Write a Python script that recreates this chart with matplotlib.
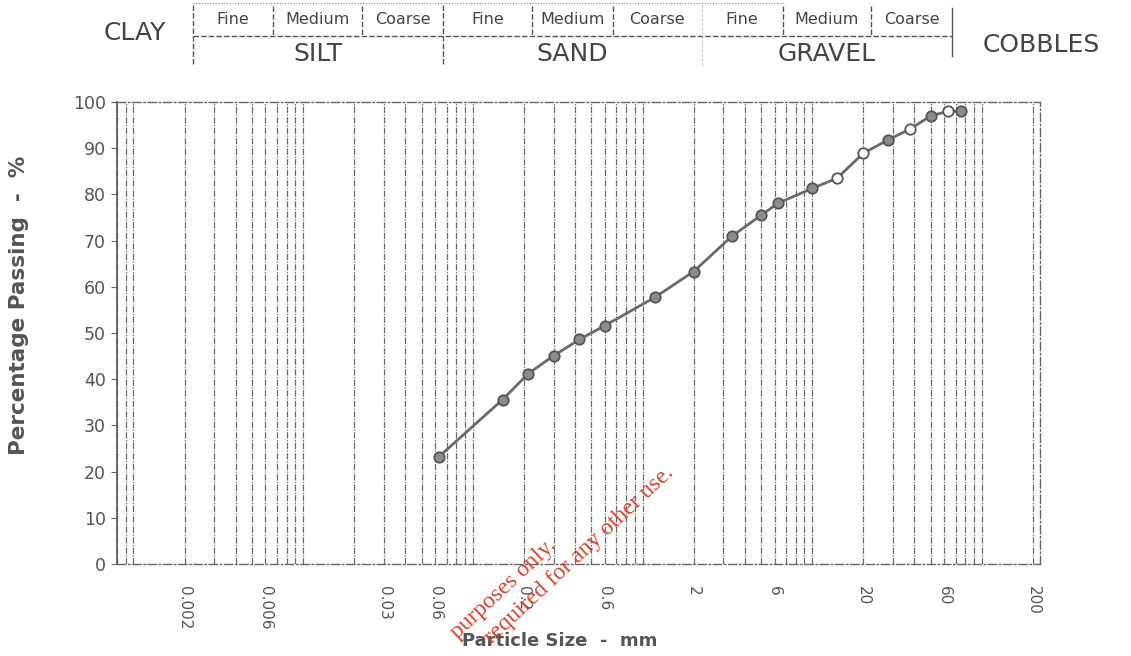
import numpy as np
import matplotlib
matplotlib.use("Agg")
import matplotlib.pyplot as plt
from matplotlib import transforms
from matplotlib.ticker import FixedLocator, LogLocator, NullFormatter, FixedFormatter

# ---- data ----
sieve_sizes_mm = [0.063, 0.15, 0.212, 0.3, 0.425, 0.6, 1.18, 2.0, 3.35, 5.0, 6.3,
                  10.0, 14.0, 20.0, 28.0, 37.5, 50.0, 63.0, 75.0]
percent_passing = [23.2, 35.6, 41.2, 45.1, 48.6, 51.6, 57.7, 63.3, 70.9, 75.5, 78.1,
                   81.3, 83.5, 88.9, 91.8, 94.1, 97.0, 98.0, 98.0]
hollow_point = [False, False, False, False, False, False, False, False, False, False, False,
                False, True, True, False, True, False, True, False]

x_tick_values = [0.002, 0.006, 0.03, 0.06, 0.2, 0.6, 2, 6, 20, 60, 200]
x_tick_labels = ["0.002", "0.006", "0.03", "0.06", "0.2", "0.6", "2", "6", "20", "60", "200"]
y_ticks = list(range(0, 101, 10))

# soil classification boundaries (mm)
main_classes = ["SILT", "SAND", "GRAVEL"]
main_bounds = [(0.002, 0.06), (0.06, 2.0), (2.0, 60.0)]
sub_classes = ["Fine", "Medium", "Coarse"]
sub_bounds = [0.002, 0.006, 0.02, 0.06, 0.2, 0.6, 2.0, 6.0, 20.0, 60.0]

# ---- figure ----
W, H, DPI = 1131, 656, 100
fig = plt.figure(figsize=(W / DPI, H / DPI), dpi=DPI)
ax = fig.add_axes([117 / W, 1 - 564 / H, (1040 - 117) / W, (564 - 102) / H])

ax.set_xscale("log")
ax.set_xlim(0.0008, 220)
ax.set_ylim(0, 100)

txt_col = "#555555"

# gridlines (log major + minor)
ax.xaxis.set_minor_locator(LogLocator(base=10, subs=np.arange(1, 10), numticks=60))
ax.xaxis.set_minor_formatter(NullFormatter())
ax.xaxis.set_major_locator(FixedLocator(x_tick_values))
ax.xaxis.set_major_formatter(FixedFormatter(x_tick_labels))
ax.grid(True, which="both", axis="x", color="#6a6a6a", linewidth=0.9,
        linestyle=(0, (5, 1.2, 1, 1.2)))
ax.grid(False, axis="y")
ax.tick_params(axis="x", which="minor", length=0)
ax.tick_params(axis="x", which="major", length=0, pad=16, labelsize=11,
               labelcolor=txt_col, labelrotation=-90)
for lab in ax.get_xticklabels():
    lab.set_va("top")

ax.set_yticks(y_ticks)
ax.tick_params(axis="y", length=4, color="#666666", labelsize=12.5,
               labelcolor=txt_col, pad=4)

for side in ["top", "bottom", "right"]:
    ax.spines[side].set_color("#666666")
    ax.spines[side].set_linewidth(1.0)
    ax.spines[side].set_linestyle((0, (6, 2, 1, 2)))
ax.spines["left"].set_color("#555555")
ax.spines["left"].set_linewidth(1.2)

# grading curve
ax.plot(sieve_sizes_mm, percent_passing, color="#6a6a6a", linewidth=2.0, zorder=3)
for xs, ys, hol in zip(sieve_sizes_mm, percent_passing, hollow_point):
    ax.plot([xs], [ys], marker="o", markersize=7.5,
            markerfacecolor="white" if hol else "#8c8c8c",
            markeredgecolor="#555555", markeredgewidth=1.3, zorder=4, linestyle="none")

# axis labels
fig.text(560 / W, 1 - 641 / H, "Particle Size  -  mm", ha="center", va="center",
         fontsize=13, fontweight="bold", color=txt_col)
fig.text(19 / W, 1 - 305 / H, "Percentage Passing  -  %", ha="center", va="center",
         rotation=90, fontsize=15.5, fontweight="bold", color=txt_col)

# ---- classification header ----
hdr = transforms.blended_transform_factory(ax.transData, fig.transFigure) + \
    transforms.ScaledTranslation(8 / DPI, 0, fig.dpi_scale_trans)

def fy(px):
    return 1 - px / H

line_kw = dict(color="#555555", linewidth=1.0, linestyle=(0, (4, 1.5)), transform=hdr,
               clip_on=False)
# top dotted line
fig.add_artist(plt.Line2D([sub_bounds[0], 6.0], [fy(3), fy(3)], color="#888888",
                          linewidth=0.8, linestyle=(0, (1, 1.5)), transform=hdr))
# separator between sub- and main classes
fig.add_artist(plt.Line2D([sub_bounds[0], sub_bounds[-1]], [fy(36), fy(36)], **line_kw))
# dividers
for b in sub_bounds:
    if b in (0.002, 0.06):
        fig.add_artist(plt.Line2D([b, b], [fy(5), fy(66)], **line_kw))
    elif b == 60.0:
        fig.add_artist(plt.Line2D([b, b], [fy(8), fy(56)], color="#555555", linewidth=1.0,
                                  transform=hdr))
    elif b == 2.0:
        fig.add_artist(plt.Line2D([b, b], [fy(5), fy(66)], color="#bbbbbb", linewidth=0.8,
                                  linestyle=(0, (2, 2)), transform=hdr))
    else:
        fig.add_artist(plt.Line2D([b, b], [fy(6), fy(35)], **line_kw))

for i in range(len(sub_bounds) - 1):
    lo, hi = sub_bounds[i], sub_bounds[i + 1]
    fig.text(np.sqrt(lo * hi), fy(20), sub_classes[i % 3], transform=hdr,
             ha="center", va="center", fontsize=11.5, color="#444444")

for name, (lo, hi) in zip(main_classes, main_bounds):
    fig.text(np.sqrt(lo * hi), fy(54), name, transform=hdr, ha="center", va="center",
             fontsize=18, color="#444444")
fig.text(0.00092, fy(33), "CLAY", transform=hdr, ha="center", va="center",
         fontsize=18, color="#444444")
fig.text(200, fy(45), "COBBLES", transform=hdr, ha="center", va="center",
         fontsize=18, color="#444444")

# ---- watermark ----
wm_kw = dict(rotation=43, rotation_mode="anchor", ha="right", va="baseline",
             fontsize=17, color="#d9412b", family="Liberation Serif")
fig.text(557 / W, 1 - 547 / H, "purposes only.", **wm_kw)
fig.text(674 / W, 1 - 474 / H, "required for any other use.", **wm_kw)

fig.savefig("out.png", dpi=DPI)
